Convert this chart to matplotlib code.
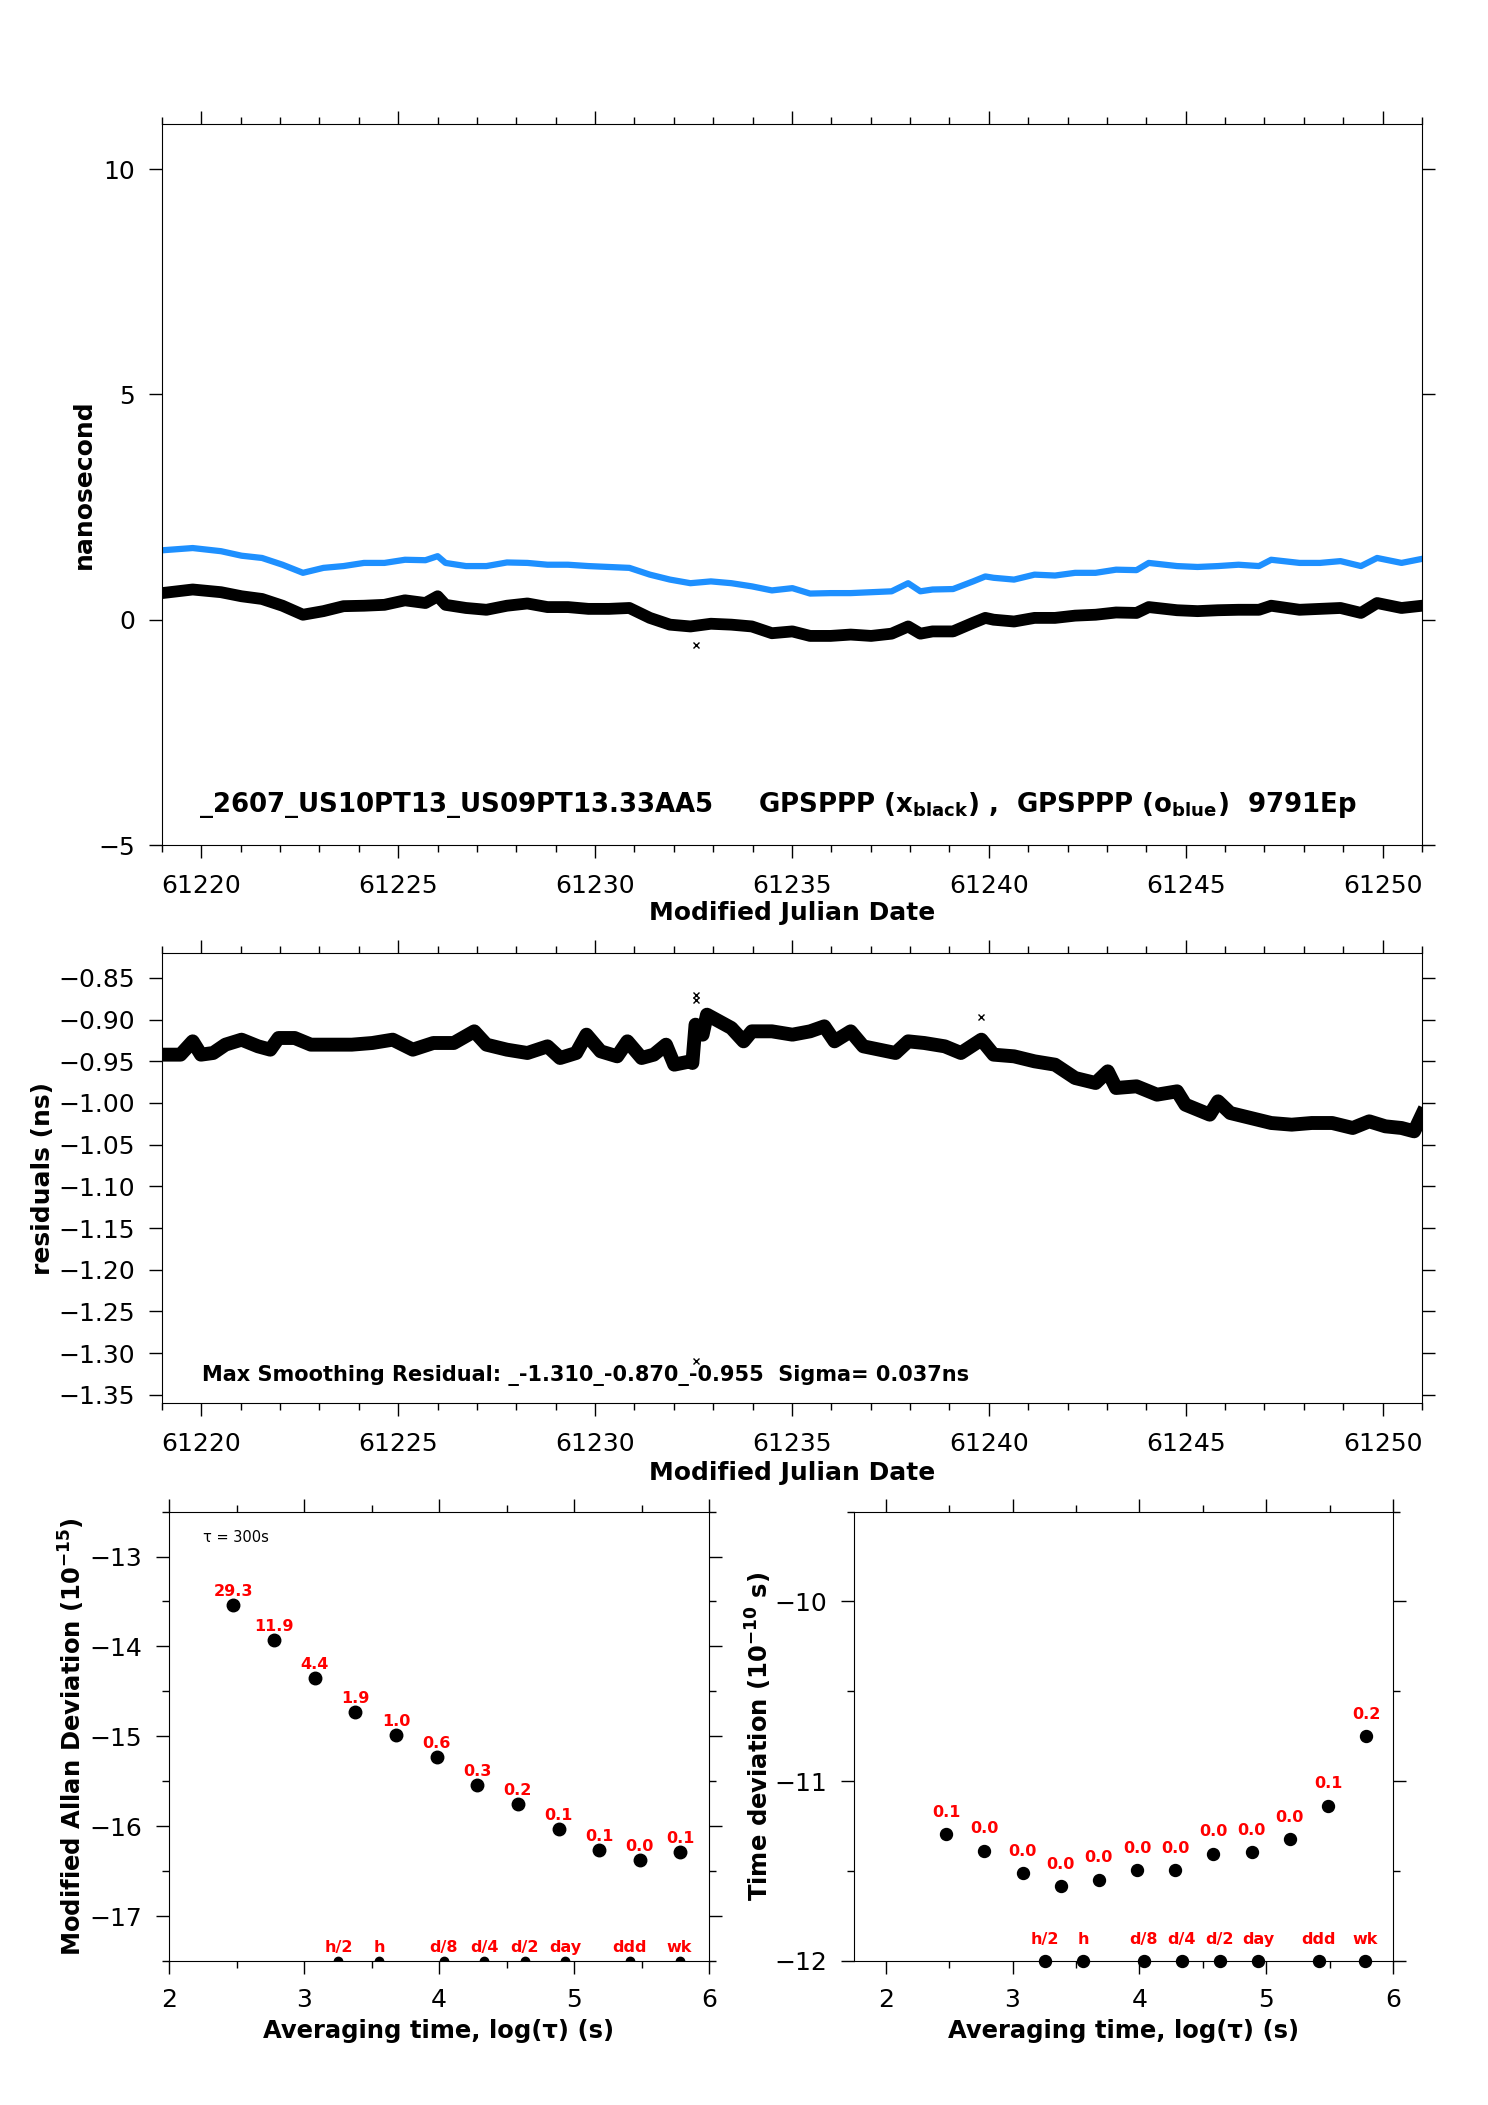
import matplotlib
matplotlib.use("Agg")
import matplotlib.pyplot as plt
from matplotlib.ticker import MultipleLocator, FuncFormatter
import numpy as np

plt.rcParams["font.family"] = ["DejaVu Sans"]
plt.rcParams["mathtext.fontset"] = "dejavusans"

# ---------------- data ----------------
# top panel: clock offsets (ns) against MJD
mjd_top = [61219.00, 61219.78, 61220.50, 61221.02, 61221.54, 61222.06, 61222.58,
           61223.10, 61223.61, 61224.13, 61224.65, 61225.17, 61225.69, 61226.00,
           61226.20, 61226.72, 61227.24, 61227.76, 61228.28, 61228.79, 61229.31,
           61229.83, 61230.35, 61230.87, 61231.39, 61231.90, 61232.42, 61232.94,
           61233.46, 61233.98, 61234.49, 61235.01, 61235.46, 61235.98, 61236.49,
           61237.01, 61237.53, 61237.95, 61238.26, 61238.57, 61239.09, 61239.60,
           61239.91, 61240.12, 61240.64, 61241.16, 61241.68, 61242.19, 61242.71,
           61243.23, 61243.75, 61244.06, 61244.78, 61245.30, 61245.82, 61246.34,
           61246.86, 61247.17, 61247.89, 61248.41, 61248.93, 61249.45, 61249.86,
           61250.48, 61251.00]
x_black = [0.59, 0.67, 0.61, 0.52, 0.46, 0.31, 0.11, 0.19, 0.30, 0.31, 0.33, 0.43,
           0.37, 0.52, 0.33, 0.26, 0.22, 0.31, 0.36, 0.28, 0.28, 0.24, 0.24, 0.26,
           0.04, -0.11, -0.15, -0.09, -0.11, -0.15, -0.30, -0.26,
           -0.36, -0.36, -0.33, -0.36, -0.31, -0.15, -0.31, -0.26, -0.26, -0.07,
           0.04, 0.00, -0.04, 0.04, 0.04, 0.09, 0.11, 0.16, 0.15, 0.28, 0.21, 0.19,
           0.21, 0.22, 0.22, 0.31, 0.22, 0.24, 0.26, 0.15, 0.37, 0.26, 0.31]
x_blue = [1.54, 1.59, 1.52, 1.42, 1.37, 1.22, 1.04, 1.15, 1.19, 1.26, 1.26, 1.33,
          1.32, 1.41, 1.26, 1.19, 1.19, 1.27, 1.26, 1.22, 1.22, 1.19, 1.17, 1.15,
          1.00, 0.89, 0.81, 0.85, 0.81, 0.74, 0.65, 0.70,
          0.58, 0.59, 0.59, 0.61, 0.63, 0.81, 0.63, 0.67, 0.68, 0.85, 0.96, 0.93,
          0.89, 1.00, 0.98, 1.04, 1.04, 1.11, 1.10, 1.26, 1.19, 1.17, 1.19, 1.22,
          1.19, 1.33, 1.26, 1.26, 1.30, 1.19, 1.37, 1.26, 1.35]
out_top_mjd = [61232.55]
out_top_val = [-0.57]

# middle panel: smoothing residuals (ns)
mjd_res = [61219.00, 61219.47, 61219.78, 61219.99, 61220.30, 61220.61, 61221.02,
           61221.44, 61221.75, 61221.96, 61222.37, 61222.78, 61223.30, 61223.82,
           61224.34, 61224.86, 61225.37, 61225.89, 61226.41, 61226.93, 61227.24,
           61227.76, 61228.28, 61228.79, 61229.11, 61229.52, 61229.78, 61230.14,
           61230.56, 61230.82, 61231.18, 61231.49, 61231.80, 61232.01, 61232.42,
           61232.47, 61232.55, 61232.73, 61232.84, 61233.15, 61233.46, 61233.77,
           61233.98, 61234.49, 61235.01, 61235.46, 61235.82, 61236.08, 61236.49,
           61236.81, 61237.22, 61237.63, 61237.95, 61238.36, 61238.88, 61239.29,
           61239.81, 61240.12, 61240.64, 61241.16, 61241.68, 61242.19, 61242.71,
           61243.02, 61243.23, 61243.75, 61244.27, 61244.78, 61244.99, 61245.30,
           61245.61, 61245.82, 61246.13, 61246.65, 61247.17, 61247.69, 61248.20,
           61248.72, 61249.24, 61249.66, 61250.07, 61250.48, 61250.80, 61251.00]
residuals = [-0.942, -0.942, -0.926, -0.942, -0.940, -0.930, -0.924, -0.932, -0.936,
             -0.922, -0.922, -0.930, -0.930, -0.930, -0.928, -0.924, -0.936, -0.928,
             -0.928, -0.914, -0.930, -0.936, -0.940, -0.932, -0.946, -0.940, -0.918,
             -0.938, -0.944, -0.926, -0.946, -0.942, -0.930, -0.954, -0.950, -0.952,
             -0.906, -0.918, -0.894, -0.902, -0.910, -0.926, -0.914, -0.914, -0.918,
             -0.914, -0.908, -0.926, -0.914, -0.932, -0.936, -0.940, -0.926, -0.928,
             -0.932, -0.940, -0.924, -0.942, -0.944, -0.950, -0.954, -0.970, -0.976,
             -0.962, -0.982, -0.980, -0.990, -0.986, -1.002, -1.008, -1.014, -0.998,
             -1.012, -1.018, -1.024, -1.026, -1.024, -1.024, -1.030, -1.022, -1.028,
             -1.030, -1.034, -1.014]
out_res_mjd = [61232.55, 61232.55, 61239.81, 61232.55]
out_res_val = [-0.870, -0.876, -0.897, -1.310]

# bottom panels: stability vs averaging time
tau_s = [300, 600, 1200, 2400, 4800, 9600, 19200, 38400, 76800, 153600, 307200, 614400]
mdev_log = [-13.536, -13.925, -14.355, -14.73, -14.985, -15.234, -15.54, -15.75,
            -16.035, -16.27, -16.38, -16.29]
mdev_text = ["29.3", "11.9", "4.4", "1.9", "1.0", "0.6", "0.3", "0.2", "0.1", "0.1", "0.0", "0.1"]
tdev_log = [-11.294, -11.386, -11.511, -11.584, -11.547, -11.494, -11.494, -11.403,
            -11.393, -11.322, -11.135, -10.749]
tdev_text = ["0.1", "0.0", "0.0", "0.0", "0.0", "0.0", "0.0", "0.0", "0.0", "0.0", "0.1", "0.2"]
mark_s = [1800, 3600, 10800, 21600, 43200, 86400, 259200, 604800]
mark_text = ["h/2", "h", "d/8", "d/4", "d/2", "day", "ddd", "wk"]


def fmt(decimals):
    # tick label with a real minus sign
    def f(v, pos):
        if abs(v) < 1e-9:
            v = 0.0
        return f"{v:.{decimals}f}".replace("-", "\u2212")
    return FuncFormatter(f)


def style_axis(ax, xmaj, xmin, ymaj, ymin, xpad=11.5):
    ax.xaxis.set_major_locator(MultipleLocator(xmaj))
    ax.xaxis.set_minor_locator(MultipleLocator(xmin))
    ax.yaxis.set_major_locator(MultipleLocator(ymaj))
    if ymin:
        ax.yaxis.set_minor_locator(MultipleLocator(ymin))
    ax.tick_params(which="both", direction="out", top=True, right=True, width=1.0)
    ax.tick_params(which="major", length=9.4)
    ax.tick_params(which="minor", length=5)
    ax.tick_params(axis="y", pad=10, labelsize=18)
    ax.tick_params(axis="x", pad=xpad, labelsize=18)
    for s in ax.spines.values():
        s.set_linewidth(0.8)


fig = plt.figure(figsize=(14.88, 21.05), dpi=100)

# ---- top: time series ----
ax1 = fig.add_axes([0.10887, 0.59857, 0.84677, 0.34252])
ax1.plot(mjd_top, x_black, color="black", lw=8.5, solid_joinstyle="round")
ax1.plot(mjd_top, x_blue, color="#1e90ff", lw=4.5, solid_joinstyle="round")
ax1.plot(out_top_mjd, out_top_val, "x", color="black", ms=5, mew=1)
ax1.set_xlim(61219, 61251)
ax1.set_ylim(-5, 11)
style_axis(ax1, 5, 1, 5, None)
ax1.xaxis.set_major_formatter(fmt(0))
ax1.yaxis.set_major_formatter(fmt(0))
ax1.set_xlabel("Modified Julian Date", fontsize=18, fontweight="bold", va="top")
ax1.xaxis.set_label_coords(0.5, -0.0777)
ax1.set_ylabel("nanosecond", fontsize=18, fontweight="bold", va="center")
ax1.yaxis.set_label_coords(-0.0623, 0.5)
ax1.text(0.0294, 0.0462,
         r"_2607_US10PT13_US09PT13.33AA5     GPSPPP (x$_{\mathbf{black}}$) ,  "
         r"GPSPPP (o$_{\mathbf{blue}}$)  9791Ep",
         transform=ax1.transAxes, fontsize=18.7, fontweight="bold", va="baseline")

# ---- middle: residuals ----
ax2 = fig.add_axes([0.10887, 0.33349, 0.84677, 0.21378])
ax2.plot(mjd_res, residuals, color="black", lw=10, solid_joinstyle="round")
ax2.plot(out_res_mjd, out_res_val, "x", color="black", ms=5, mew=1)
ax2.set_xlim(61219, 61251)
ax2.set_ylim(-1.36, -0.82)
style_axis(ax2, 5, 1, 0.05, None)
ax2.xaxis.set_major_formatter(fmt(0))
ax2.yaxis.set_major_formatter(fmt(2))
ax2.set_xlabel("Modified Julian Date", fontsize=18, fontweight="bold", va="top")
ax2.xaxis.set_label_coords(0.5, -0.1298)
ax2.set_ylabel("residuals (ns)", fontsize=18, fontweight="bold", va="center")
ax2.yaxis.set_label_coords(-0.0944, 0.5)
ax2.text(0.0317, 0.049,
         "Max Smoothing Residual: _-1.310_-0.870_-0.955  Sigma= 0.037ns",
         transform=ax2.transAxes, fontsize=15, fontweight="bold", va="baseline")

# ---- bottom left: modified Allan deviation ----
log_tau = np.log10(tau_s)
log_mark = np.log10(mark_s)

ax3 = fig.add_axes([0.11358, 0.06841, 0.36290, 0.21349])
ax3.plot(log_tau, mdev_log, "o", color="black", ms=9)
for x, y, t in zip(log_tau, mdev_log, mdev_text):
    ax3.annotate(t, (x, y), xytext=(0, 6.5), textcoords="offset points", ha="center",
                 va="baseline", color="red", fontsize=11.5, fontweight="bold")
ax3.plot(log_mark, [-17.5] * len(mark_s), "o", color="black", ms=6)
for x, t in zip(log_mark, mark_text):
    ax3.annotate(t, (x, -17.5), xytext=(0, 6.5), textcoords="offset points", ha="center",
                 va="baseline", color="red", fontsize=11.5, fontweight="bold")
ax3.set_xlim(2, 6)
ax3.set_ylim(-17.5, -12.5)
style_axis(ax3, 1, 0.5, 1, 0.5, xpad=10)
ax3.xaxis.set_major_formatter(fmt(0))
ax3.yaxis.set_major_formatter(fmt(0))
ax3.text(0.063, 0.933, "\u03c4 = 300s", transform=ax3.transAxes, fontsize=10.5,
         va="baseline")
ax3.set_xlabel("Averaging time, log(\u03c4) (s)", fontsize=17.5, fontweight="bold", va="top")
ax3.xaxis.set_label_coords(0.5, -0.129)
ax3.set_ylabel(r"Modified Allan Deviation (10$^{\mathbf{-15}}$)", fontsize=17.5,
               fontweight="bold", va="center")
ax3.yaxis.set_label_coords(-0.18, 0.5)

# ---- bottom right: time deviation ----
ax4 = fig.add_axes([0.57392, 0.06841, 0.36223, 0.21349])
ax4.plot(log_tau, tdev_log, "o", color="black", ms=8.6)
for x, y, t in zip(log_tau, tdev_log, tdev_text):
    ax4.annotate(t, (x, y), xytext=(0, 12.5), textcoords="offset points", ha="center",
                 va="baseline", color="red", fontsize=11.5, fontweight="bold")
ax4.plot(log_mark, [-12] * len(mark_s), "o", color="black", ms=8.6, clip_on=False)
for x, t in zip(log_mark, mark_text):
    ax4.annotate(t, (x, -12), xytext=(0, 12.5), textcoords="offset points", ha="center",
                 va="baseline", color="red", fontsize=11.5, fontweight="bold")
ax4.set_xlim(1.75, 6)
ax4.set_ylim(-12, -9.5)
style_axis(ax4, 1, 0.5, 1, 0.5, xpad=10)
ax4.xaxis.set_major_formatter(fmt(0))
ax4.yaxis.set_major_formatter(fmt(0))
ax4.set_xlabel("Averaging time, log(\u03c4) (s)", fontsize=17.5, fontweight="bold", va="top")
ax4.xaxis.set_label_coords(0.5, -0.129)
ax4.set_ylabel(r"Time deviation (10$^{\mathbf{-10}}$ s)", fontsize=17.5,
               fontweight="bold", va="center")
ax4.yaxis.set_label_coords(-0.1763, 0.5)

fig.savefig("out.png", dpi=100)
